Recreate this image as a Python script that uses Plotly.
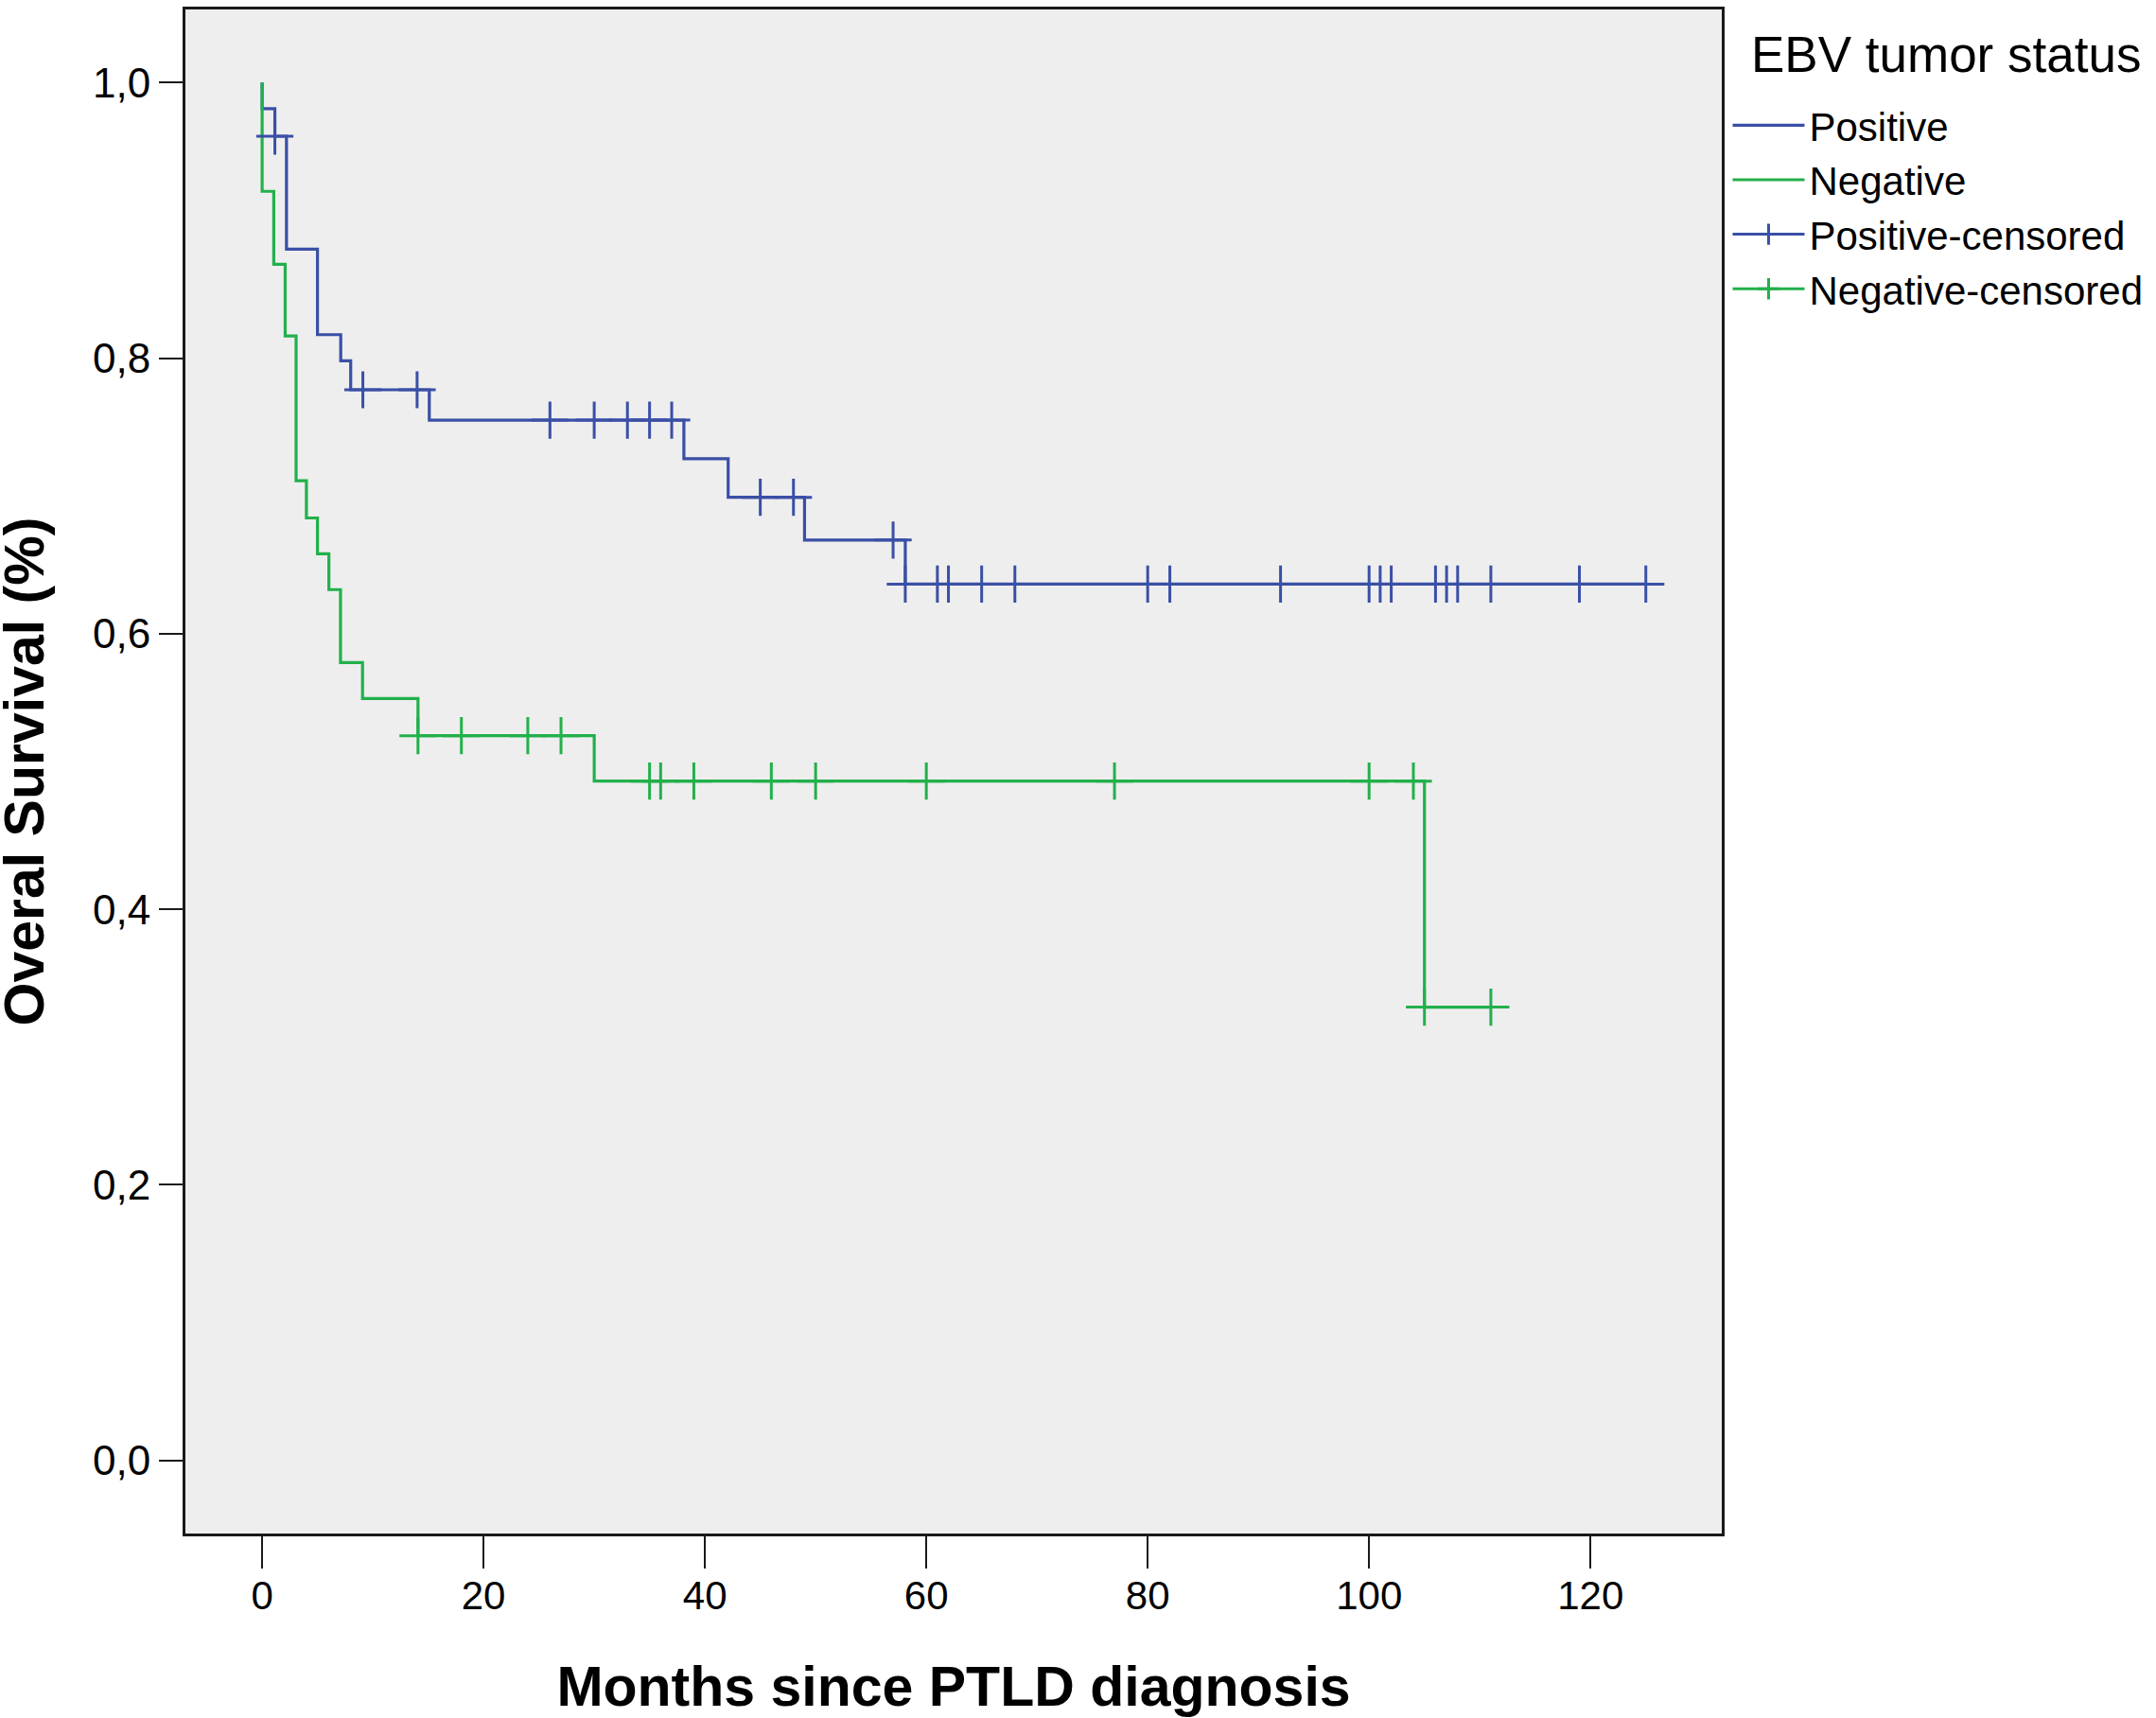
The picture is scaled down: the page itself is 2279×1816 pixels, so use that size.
import plotly.graph_objects as go

# ---- data ----
# Kaplan-Meier step curves: time of each drop and survival after the drop
pos_times = [0, 0, 1.15, 2.2, 5.0, 7.1, 8.0, 15.1, 38.1, 42.1, 49.0, 58.1, 125]
pos_surv = [1.0, 0.981, 0.961, 0.879, 0.817, 0.798, 0.777, 0.755, 0.727, 0.699, 0.668, 0.636, 0.636]

neg_times = [0, 0, 1.05, 2.08, 3.07, 4.0, 5.0, 6.03, 7.08, 9.07, 14.08, 30.0, 105.0, 111]
neg_surv = [1.0, 0.921, 0.868, 0.816, 0.711, 0.684, 0.658, 0.632, 0.579, 0.553, 0.526, 0.493, 0.329, 0.329]

# censored observations (months)
pos_censored = [1.15, 9.1, 14.0, 26, 30, 33, 35, 37, 45, 48, 57, 58.1, 61, 62, 65, 68,
                80, 82, 92, 100, 101, 102, 106, 107, 108, 111, 119, 125]
neg_censored = [14.08, 18, 24, 27, 35, 36, 39, 46, 50, 60, 77, 100, 104, 105, 111]

y_ticks = [0.0, 0.2, 0.4, 0.6, 0.8, 1.0]
x_ticks = [0, 20, 40, 60, 80, 100, 120]

BLUE = "#3A4FA6"
GREEN = "#22B04B"
FONT = "Liberation Sans"


def surv_at(t, times, surv):
    s = surv[0]
    for ti, si in zip(times, surv):
        if ti <= t:
            s = si
    return s


fig = go.Figure()

fig.add_trace(go.Scatter(x=pos_times, y=pos_surv, mode="lines", line_shape="hv",
                         line=dict(color=BLUE, width=3.2), name="Positive"))
fig.add_trace(go.Scatter(x=neg_times, y=neg_surv, mode="lines", line_shape="hv",
                         line=dict(color=GREEN, width=3.2), name="Negative"))

marker_kw = dict(symbol="cross-thin", size=28)
fig.add_trace(go.Scatter(x=pos_censored, y=[surv_at(t, pos_times, pos_surv) for t in pos_censored],
                         mode="markers", showlegend=False,
                         marker=dict(color=BLUE, line=dict(color=BLUE, width=3), **marker_kw)))
fig.add_trace(go.Scatter(x=neg_censored, y=[surv_at(t, neg_times, neg_surv) for t in neg_censored],
                         mode="markers", showlegend=False,
                         marker=dict(color=GREEN, line=dict(color=GREEN, width=3), **marker_kw)))

# legend entries for censored marks (line + cross)
fig.add_trace(go.Scatter(x=[None], y=[None], mode="lines+markers", name="Positive-censored",
                         line=dict(color=BLUE, width=3),
                         marker=dict(color=BLUE, line=dict(color=BLUE, width=3), **marker_kw)))
fig.add_trace(go.Scatter(x=[None], y=[None], mode="lines+markers", name="Negative-censored",
                         line=dict(color=GREEN, width=3),
                         marker=dict(color=GREEN, line=dict(color=GREEN, width=3), **marker_kw)))

axis_common = dict(showgrid=False, zeroline=False, showline=True, mirror=True,
                   linecolor="#1a1a1a", linewidth=3, ticks="outside", tickwidth=2,
                   tickcolor="#1a1a1a")

fig.update_layout(
    width=2279, height=1816,
    margin=dict(l=196, r=459, t=7, b=195),
    paper_bgcolor="white",
    plot_bgcolor="#EEEEEE",
    separators=",.",
    font=dict(family=FONT, color="black"),
    xaxis=dict(range=[-6.93, 131.86], tickvals=x_ticks, ticklen=34, ticklabelstandoff=-7,
               tickfont=dict(family=FONT, size=42, color="black"),
               title=dict(text="Months since PTLD diagnosis", standoff=56,
                          font=dict(family=FONT, size=59, weight="bold", color="black")),
               **axis_common),
    yaxis=dict(range=[-0.053, 1.053], tickvals=y_ticks, tickformat=".1f", ticklen=25,
               tickfont=dict(family=FONT, size=44, color="black"),
               **axis_common),
    legend=dict(x=1.004, y=0.945, xanchor="left", yanchor="top",
                bgcolor="rgba(0,0,0,0)", itemwidth=76,
                font=dict(family=FONT, size=42, color="black"),
                tracegroupgap=0),
    annotations=[
        dict(text="EBV tumor status", xref="paper", yref="paper",
             x=1.0179, y=0.9703, xanchor="left", yanchor="middle",
             showarrow=False, font=dict(family=FONT, size=53, color="black")),
        dict(text="Overal Survival (%)", xref="paper", yref="paper",
             x=-0.1047, y=0.5, xanchor="center", yanchor="middle", textangle=-90,
             showarrow=False, font=dict(family=FONT, size=59, weight="bold", color="black")),
    ],
    showlegend=True,
)

fig.write_html("out.html", config={"displayModeBar": False},
               post_script="document.body.style.margin='0px';")
